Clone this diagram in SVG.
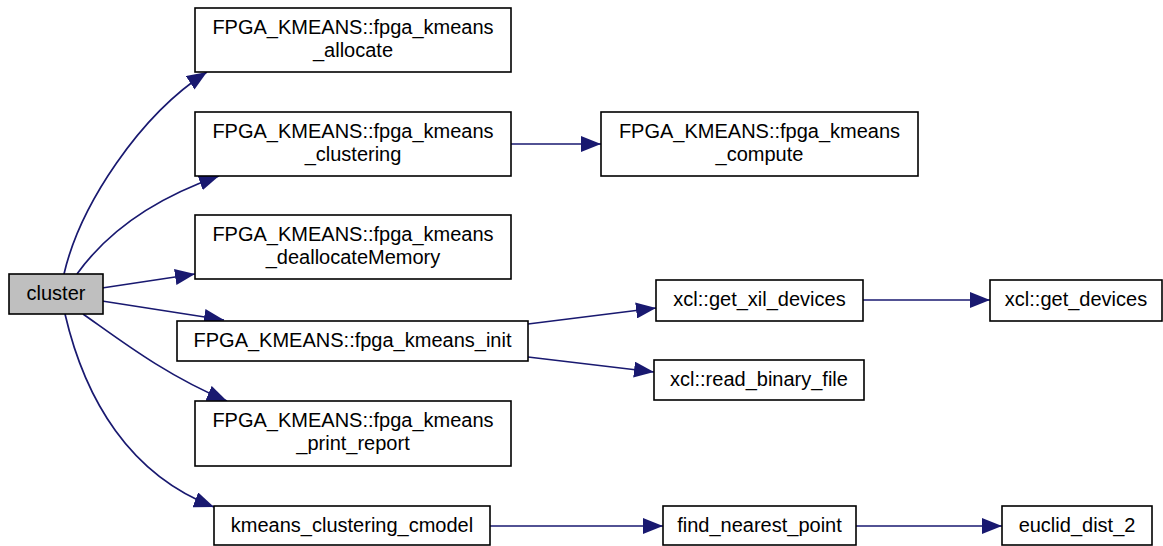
<svg xmlns="http://www.w3.org/2000/svg" width="1163" height="546" viewBox="0 0 1163 546">
<style>
.n rect{fill:#fff;stroke:#000;stroke-width:1.6}
.n text{font-family:"Liberation Sans",Arial,sans-serif;font-size:20px;fill:#000;text-anchor:middle}
#cluster rect{fill:#bfbfbf}
.e path{fill:none;stroke:#191970;stroke-width:1.7}
</style>
<defs>
<marker id="ah" viewBox="0 0 20 16" refX="20" refY="8" markerWidth="20" markerHeight="16" markerUnits="userSpaceOnUse" orient="auto">
<path d="M0,0 L20,8 L0,16 z" fill="#191970"/>
</marker>
</defs>
<rect width="1163" height="546" fill="#fff"/>
<g class="e">
<path d="M64 274 C80 205 140 115 207 72" marker-end="url(#ah)"/>
<path d="M77 274 C105 235 150 200 219 176" marker-end="url(#ah)"/>
<path d="M102 288 L195 274" marker-end="url(#ah)"/>
<path d="M102 301 L224 320" marker-end="url(#ah)"/>
<path d="M83 314 C120 340 165 375 227 401" marker-end="url(#ah)"/>
<path d="M65 314 C85 400 130 475 214 507" marker-end="url(#ah)"/>
<path d="M511 144 L601 144" marker-end="url(#ah)"/>
<path d="M528 324 L656 308" marker-end="url(#ah)"/>
<path d="M528 357 L654 372" marker-end="url(#ah)"/>
<path d="M863 300 L990 300" marker-end="url(#ah)"/>
<path d="M490 526 L663 526" marker-end="url(#ah)"/>
<path d="M856 526 L1002 526" marker-end="url(#ah)"/>
</g>
<g class="n" id="cluster"><rect x="9" y="274" width="94" height="40"/><text x="56" y="300">cluster</text></g>
<g class="n" id="allocate"><rect x="195" y="8" width="316" height="64"/><text x="353" y="34">FPGA_KMEANS::fpga_kmeans</text><text x="353" y="57">_allocate</text></g>
<g class="n" id="clustering"><rect x="195" y="112" width="316" height="64"/><text x="353" y="138">FPGA_KMEANS::fpga_kmeans</text><text x="353" y="161">_clustering</text></g>
<g class="n" id="compute"><rect x="601" y="112" width="317" height="64"/><text x="759.5" y="138">FPGA_KMEANS::fpga_kmeans</text><text x="759.5" y="161">_compute</text></g>
<g class="n" id="dealloc"><rect x="195" y="215" width="316" height="64"/><text x="353" y="241">FPGA_KMEANS::fpga_kmeans</text><text x="353" y="264">_deallocateMemory</text></g>
<g class="n" id="init"><rect x="177" y="321" width="351" height="40"/><text x="352.5" y="347">FPGA_KMEANS::fpga_kmeans_init</text></g>
<g class="n" id="report"><rect x="195" y="401" width="316" height="65"/><text x="353" y="427">FPGA_KMEANS::fpga_kmeans</text><text x="353" y="450">_print_report</text></g>
<g class="n" id="cmodel"><rect x="214" y="506" width="276" height="39"/><text x="352" y="532">kmeans_clustering_cmodel</text></g>
<g class="n" id="getxil"><rect x="656" y="280" width="207" height="41"/><text x="759.5" y="306">xcl::get_xil_devices</text></g>
<g class="n" id="getdev"><rect x="990" y="280" width="172" height="41"/><text x="1076" y="306">xcl::get_devices</text></g>
<g class="n" id="readbin"><rect x="654" y="360" width="210" height="40"/><text x="759" y="386">xcl::read_binary_file</text></g>
<g class="n" id="findnp"><rect x="663" y="506" width="193" height="39"/><text x="759.5" y="532">find_nearest_point</text></g>
<g class="n" id="euclid"><rect x="1002" y="506" width="150" height="39"/><text x="1077" y="532">euclid_dist_2</text></g>
</svg>
